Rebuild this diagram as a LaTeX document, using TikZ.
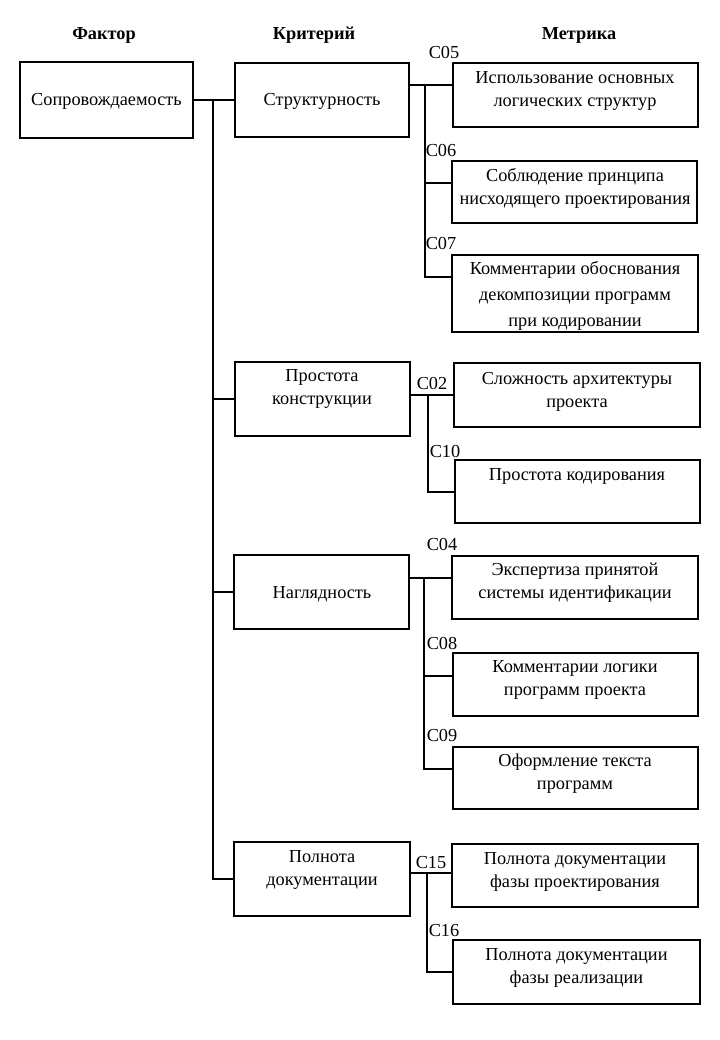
\documentclass[tikz,border=0pt]{standalone}
\usepackage{fontspec}
\setmainfont{Liberation Serif}
\begin{document}
\begin{tikzpicture}[x=1bp,y=-1bp,
  box/.style={draw, line width=1.6bp, inner sep=0pt, outer sep=0pt},
  txt/.style={align=center, inner sep=0pt, font=\fontsize{18.3bp}{23bp}\selectfont},
  hdr/.style={inner sep=0pt, font=\fontsize{18.3bp}{23bp}\selectfont\bfseries},
  code/.style={inner sep=0pt, font=\fontsize{18.3bp}{22bp}\selectfont},
  wire/.style={line width=1.6bp}]
\useasboundingbox (0,0) rectangle (720,1040);
% headers
\node[hdr] (h1) at (104,35) {Фактор};
\node[hdr] (h2) at (314,35) {Критерий};
\node[hdr] (h3) at (579,35) {Метрика};
% boxes
\node[box, minimum width=173bp, minimum height=76bp] (F) at (106.5,100) {};
\node[box, minimum width=174bp, minimum height=74bp] (K1) at (322,100) {};
\node[box, minimum width=175bp, minimum height=74bp] (K2) at (322.5,399) {};
\node[box, minimum width=175bp, minimum height=74bp] (K3) at (321.5,592) {};
\node[box, minimum width=176bp, minimum height=74bp] (K4) at (322,879) {};
\node[box, minimum width=245bp, minimum height=64bp] (M1) at (575.5,95) {};
\node[box, minimum width=245bp, minimum height=62bp] (M2) at (574.5,192) {};
\node[box, minimum width=246bp, minimum height=77bp] (M3) at (575,293.5) {};
\node[box, minimum width=246bp, minimum height=64bp] (M4) at (577,395) {};
\node[box, minimum width=245bp, minimum height=63bp] (M5) at (577.5,491.5) {};
\node[box, minimum width=246bp, minimum height=63bp] (M6) at (575,587.5) {};
\node[box, minimum width=245bp, minimum height=63bp] (M7) at (575.5,684.5) {};
\node[box, minimum width=245bp, minimum height=62bp] (M8) at (575.5,778) {};
\node[box, minimum width=246bp, minimum height=63bp] (M9) at (575,875.5) {};
\node[box, minimum width=247bp, minimum height=64bp] (M10) at (576.5,972) {};
% texts
\node[txt] (Ft) at (106.5,101) {Сопровождаемость};
\node[txt] (K1t) at (322,101) {Структурность};
\node[txt] (K2t) at (322,388.5) {Простота\\конструкции};
\node[txt] (K3t) at (322,594) {Наглядность};
\node[txt] (K4t) at (322,869.5) {Полнота\\документации};
\node[txt] (M1t) at (575,91) {Использование основных\\логических структур};
\node[txt] (M2t) at (575,188.5) {Соблюдение принципа\\нисходящего проектирования};
\node[txt, font=\fontsize{18.3bp}{26bp}\selectfont] (M3t) at (575,296) {Комментарии обоснования\\декомпозиции программ\\при кодировании};
\node[txt] (M4t) at (577,391.5) {Сложность архитектуры\\проекта};
\node[txt] (M5t) at (577,476) {Простота кодирования};
\node[txt] (M6t) at (575,583) {Экспертиза принятой\\системы идентификации};
\node[txt] (M7t) at (575,679.5) {Комментарии логики\\программ проекта};
\node[txt] (M8t) at (575,773.5) {Оформление текста\\программ};
\node[txt] (M9t) at (575,872) {Полнота документации\\фазы проектирования};
\node[txt] (M10t) at (576.5,968) {Полнота документации\\фазы реализации};
% codes
\node[code] (c05) at (444,53) {C05};
\node[code] (c06) at (441,151) {C06};
\node[code] (c07) at (441,243) {C07};
\node[code] (c02) at (432,383) {C02};
\node[code] (c10) at (445,451) {C10};
\node[code] (c04) at (442,544) {C04};
\node[code] (c08) at (442,643) {C08};
\node[code] (c09) at (442,735) {C09};
\node[code] (c15) at (431,863) {C15};
\node[code] (c16) at (444,931) {C16};
% factor to criteria
\coordinate (t0) at (213,100);
\draw[wire] (F.east) -- (K1.west);
\draw[wire] (t0) |- (K4.west);
\draw[wire] (t0 |- K2.west) -- (K2.west);
\draw[wire] (t0 |- K3.west) -- (K3.west);
% group 1
\coordinate (g1a) at (425,85);
\coordinate (g1b) at (425,183);
\coordinate (g1c) at (425,277);
\draw[wire] (K1.east |- g1a) -- (M1.west |- g1a);
\draw[wire] (g1a) -- (g1c) -- (M3.west |- g1c);
\draw[wire] (g1b) -- (M2.west |- g1b);
% group 2
\coordinate (g2a) at (428,395);
\coordinate (g2b) at (428,492);
\draw[wire] (K2.east |- g2a) -- (M4.west |- g2a);
\draw[wire] (g2a) -- (g2b) -- (M5.west |- g2b);
% group 3
\coordinate (g3a) at (424,578);
\coordinate (g3b) at (424,676);
\coordinate (g3c) at (424,769);
\draw[wire] (K3.east |- g3a) -- (M6.west |- g3a);
\draw[wire] (g3a) -- (g3c) -- (M8.west |- g3c);
\draw[wire] (g3b) -- (M7.west |- g3b);
% group 4
\coordinate (g4a) at (427,873);
\coordinate (g4b) at (427,972);
\draw[wire] (K4.east |- g4a) -- (M9.west |- g4a);
\draw[wire] (g4a) -- (g4b) -- (M10.west);
\end{tikzpicture}
\end{document}
